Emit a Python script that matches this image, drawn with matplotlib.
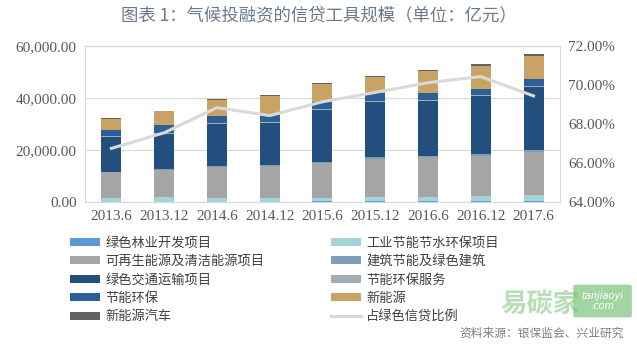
import matplotlib
matplotlib.use("Agg")
import matplotlib.pyplot as plt
from matplotlib.patches import Patch, FancyBboxPatch
from matplotlib.lines import Line2D
from matplotlib.ticker import FuncFormatter, FixedLocator
import numpy as np

plt.rcParams['font.family'] = ['Noto Sans CJK SC', 'DejaVu Sans']

periods = ["2013.6", "2013.12", "2014.6", "2014.12", "2015.6",
           "2015.12", "2016.6", "2016.12", "2017.6"]

# loan balances by category (亿元), stacked bottom to top
forestry      = [150, 150, 150, 150, 200, 200, 200, 250, 300]
industry      = [1270, 1650, 1550, 1550, 1500, 1840, 1840, 2170, 2400]
renewable     = [9940, 10420, 11750, 12080, 13300, 14600, 15170, 15280, 16600]
building      = [300, 350, 400, 450, 500, 550, 600, 650, 700]
transport     = [13240, 13730, 16130, 16230, 19830, 21460, 21180, 22530, 24350]
eco_service   = [300, 300, 300, 300, 350, 350, 350, 350, 350]
energy_saving = [2500, 3000, 2800, 2700, 2900, 2800, 2700, 2110, 2490]
new_energy    = [4190, 5220, 6170, 7460, 6670, 6380, 8280, 9070, 9010]
nev           = [300, 300, 350, 350, 400, 400, 450, 550, 600]

# share of total green credit (%)
share = [66.75, 67.55, 68.84, 68.43, 69.14, 69.62, 70.12, 70.43, 69.44]

series = [
    ("绿色林业开发项目", forestry, "#5b9bd5"),
    ("工业节能节水环保项目", industry, "#a3d4d8"),
    ("可再生能源及清洁能源项目", renewable, "#a5a5a5"),
    ("建筑节能及绿色建筑", building, "#7d9db8"),
    ("绿色交通运输项目", transport, "#234f7e"),
    ("节能环保服务", eco_service, "#a2adb4"),
    ("节能环保", energy_saving, "#2a5f98"),
    ("新能源", new_energy, "#c9a265"),
    ("新能源汽车", nev, "#636363"),
]
line_label = "占绿色信贷比例"
line_color = "#d9d9d9"

fig = plt.figure(figsize=(6.37, 3.45), dpi=100)
ax = fig.add_axes([0.1334, 0.4145, 0.879 - 0.1334, 0.8667 - 0.4145])

x = np.arange(len(periods))
bottom = np.zeros(len(periods))
handles = {}
for name, vals, col in series:
    v = np.array(vals, dtype=float)
    ax.bar(x, v, bottom=bottom, width=0.38, color=col, linewidth=0, zorder=2)
    bottom += v
    handles[name] = Patch(facecolor=col, edgecolor='none')

ax.set_xlim(-0.5, len(periods) - 0.5)
ax.set_ylim(0, 60000)
ax.yaxis.set_major_locator(FixedLocator([0, 20000, 40000, 60000]))
ax.yaxis.set_major_formatter(FuncFormatter(lambda v, p: f"{v:,.2f}"))
ax.set_xticks(x)
ax.set_xticklabels(periods)
ax.grid(axis='y', color='#d9d9d9', linewidth=0.8, zorder=0)
for s in ax.spines.values():
    s.set_color('#d9d9d9')
    s.set_linewidth(0.8)
ax.tick_params(length=0, labelsize=11, labelcolor='#595959', pad=6)
for lab in ax.get_xticklabels() + ax.get_yticklabels():
    lab.set_family('Liberation Serif')

ax2 = ax.twinx()
ax2.plot(x, share, color=line_color, linewidth=2.2, zorder=3)
ax2.set_ylim(64, 72)
ax2.yaxis.set_major_locator(FixedLocator([64, 66, 68, 70, 72]))
ax2.yaxis.set_major_formatter(FuncFormatter(lambda v, p: f"{v:.2f}%"))
for s in ax2.spines.values():
    s.set_visible(False)
ax2.tick_params(length=0, labelsize=11, labelcolor='#595959', pad=6)
for lab in ax2.get_yticklabels():
    lab.set_family('Liberation Serif')

fig.text(0.5, 0.955, "图表 1：气候投融资的信贷工具规模（单位：亿元）",
         ha='center', va='center', fontsize=12.5, color='#6b7a8c')

# legend laid out row by row in two columns
order = [s[0] for s in series] + [line_label]
handles[line_label] = Line2D([0], [0], color=line_color, linewidth=2.2)
col1 = order[0::2]
col2 = order[1::2]
leg_names = col1 + col2
leg = fig.legend([handles[n] for n in leg_names], leg_names, ncol=2,
                 loc='upper left', bbox_to_anchor=(0.11, 0.315),
                 frameon=False, fontsize=9.5, handlelength=2.3,
                 handleheight=0.55, handletextpad=0.4, labelspacing=0.42,
                 columnspacing=5.0, borderaxespad=0, borderpad=0)
for t in leg.get_texts():
    t.set_color('#404040')

fig.text(0.98, 0.035, "资料来源：银保监会、兴业研究", ha='right', va='center',
         fontsize=8.5, color='#7f7f7f')

# site watermark
fig.text(0.785, 0.115, "易碳家", ha='left', va='center', fontsize=19,
         color='#7cc47c', alpha=0.55, fontweight='bold')
box = FancyBboxPatch((0.905, 0.085), 0.082, 0.085, boxstyle="round,pad=0.005",
                     transform=fig.transFigure, facecolor='#7cc47c',
                     edgecolor='none', alpha=0.7)
fig.patches.append(box)
fig.text(0.946, 0.127, "tanjiaoyi\n.com", ha='center', va='center',
         fontsize=7, color='white', style='italic', family='DejaVu Sans',
         linespacing=1.0)

fig.savefig("out.png", dpi=100)
